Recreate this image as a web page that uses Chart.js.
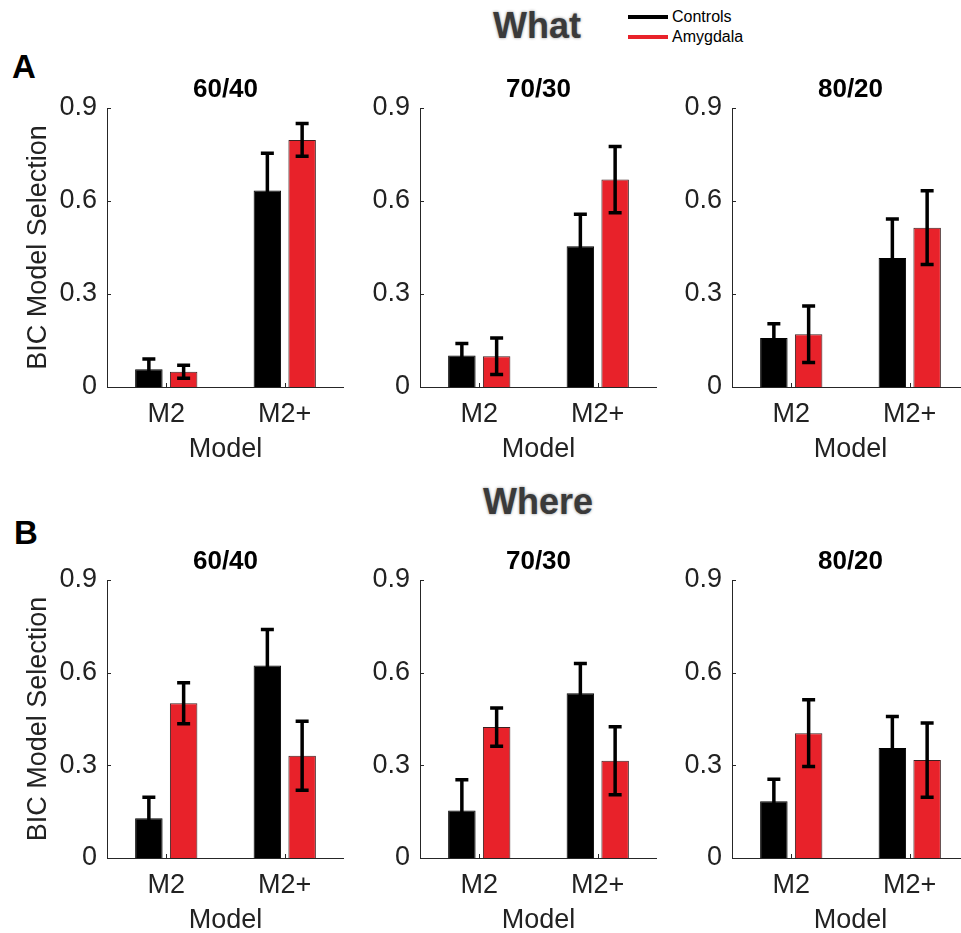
<!DOCTYPE html>
<html>
<head>
<meta charset="utf-8">
<script src="https://cdn.jsdelivr.net/npm/chart.js@4.4.1/dist/chart.umd.min.js"></script>
<style>
  html, body { margin: 0; padding: 0; background: #fff; overflow: hidden; width: 961px; height: 933px; }
  #wrap { position: relative; width: 961px; height: 933px; overflow: hidden; font-family: "Liberation Sans", Arial, sans-serif; }
  canvas { position: absolute; }
  .txt { position: absolute; white-space: nowrap; line-height: 1; }
  .big { font-weight: bold; font-size: 36px; color: #3a3a3a; text-shadow: 0 0 3px rgba(0,0,0,0.45); transform: translateX(-50%); }
  .letter { font-weight: bold; font-size: 33px; color: #000; }
  .leg { font-size: 16px; color: #000; }
  .legline { position: absolute; width: 40px; height: 4px; }
</style>
</head>
<body>
<div id="wrap">
  <div class="txt big" style="left:537px; top:8px;">What</div>
  <div class="txt big" style="left:538px; top:484px;">Where</div>
  <div class="txt letter" style="left:12px; top:50px;">A</div>
  <div class="txt letter" style="left:14px; top:516px;">B</div>
  <div class="legline" style="left:628px; top:15px; background:#000;"></div>
  <div class="legline" style="left:628px; top:35px; background:#e8222a;"></div>
  <div class="txt leg" style="left:672px; top:9px;">Controls</div>
  <div class="txt leg" style="left:672px; top:29px;">Amygdala</div>
</div>
<script>
// ---- data ----
const categories = ['M2', 'M2+'];
const conditions = ['60/40', '70/30', '80/20'];
const seriesNames = ['Controls', 'Amygdala'];
const yTicks = [0, 0.3, 0.6, 0.9];
const yTickLabels = ['0', '0.3', '0.6', '0.9'];
const xTitle = 'Model';
const yTitle = 'BIC Model Selection';

// per condition (60/40, 70/30, 80/20): [M2, M2+]
const whatControls     = [[0.057, 0.634], [0.102, 0.454], [0.158, 0.416]];
const whatControlsErr  = [[0.033, 0.120], [0.038, 0.103], [0.046, 0.126]];
const whatAmygdala     = [[0.049, 0.797], [0.099, 0.669], [0.170, 0.514]];
const whatAmygdalaErr  = [[0.021, 0.053], [0.059, 0.107], [0.091, 0.119]];
const whereControls    = [[0.129, 0.623], [0.154, 0.533], [0.184, 0.356]];
const whereControlsErr = [[0.068, 0.117], [0.099, 0.097], [0.071, 0.102]];
const whereAmygdala    = [[0.501, 0.331], [0.424, 0.315], [0.404, 0.317]];
const whereAmygdalaErr = [[0.066, 0.112], [0.062, 0.110], [0.108, 0.120]];

// ---- styling / layout ----
const FONT = '"Liberation Sans", Arial, sans-serif';
const RED = '#e8222a';
const AXIS = '#262626';
const axisX = [107, 420, 732];
const rows = [
  { top: 108, h: 279, ctrl: whatControls, ctrlErr: whatControlsErr, amy: whatAmygdala, amyErr: whatAmygdalaErr },
  { top: 580, h: 278, ctrl: whereControls, ctrlErr: whereControlsErr, amy: whereAmygdala, amyErr: whereAmygdalaErr }
];
const PLOT_W = 237;
const TITLE_BLOCK = 30, PAD_TOP = 4, XAXIS_H = 80;

const errorBarPlugin = {
  id: 'errorBars',
  afterDatasetsDraw(chart) {
    const ctx = chart.ctx;
    const ys = chart.scales.y;
    ctx.save();
    ctx.strokeStyle = '#000';
    ctx.lineWidth = 3.5;
    ctx.lineCap = 'butt';
    chart.data.datasets.forEach((ds, di) => {
      const meta = chart.getDatasetMeta(di);
      meta.data.forEach((el, i) => {
        const v = ds.data[i], e = ds.errors[i];
        const yt = ys.getPixelForValue(v + e);
        const yb = ys.getPixelForValue(v - e);
        const x = el.x, cw = 6.5;
        ctx.beginPath();
        ctx.moveTo(x, yt); ctx.lineTo(x, yb);
        ctx.moveTo(x - cw, yt); ctx.lineTo(x + cw, yt);
        ctx.moveTo(x - cw, yb); ctx.lineTo(x + cw, yb);
        ctx.stroke();
      });
    });
    ctx.restore();
  }
};

const innerTicksPlugin = {
  id: 'innerTicks',
  afterDraw(chart) {
    const ctx = chart.ctx;
    const ys = chart.scales.y, xs = chart.scales.x;
    const a = chart.chartArea;
    ctx.save();
    ctx.strokeStyle = AXIS;
    ctx.lineWidth = 1;
    ctx.beginPath();
    ys.ticks.forEach(t => {
      const y = Math.round(ys.getPixelForValue(t.value)) + 0.5;
      ctx.moveTo(a.left, y); ctx.lineTo(a.left + 4, y);
    });
    categories.forEach((c, i) => {
      const x = Math.round(xs.getPixelForValue(i)) + 0.5;
      ctx.moveTo(x, a.bottom); ctx.lineTo(x, a.bottom - 4);
    });
    ctx.stroke();
    ctx.restore();
  }
};

const wrap = document.getElementById('wrap');

rows.forEach((row, r) => {
  conditions.forEach((cond, c) => {
    const first = c === 0;
    const yAxisW = first ? 107 : 60;
    const cv = document.createElement('canvas');
    const W = yAxisW + PLOT_W;
    const H = PAD_TOP + TITLE_BLOCK + row.h + XAXIS_H;
    cv.width = W; cv.height = H;
    cv.style.width = W + 'px'; cv.style.height = H + 'px';
    cv.style.left = (axisX[c] - yAxisW) + 'px';
    cv.style.top = (row.top - TITLE_BLOCK - PAD_TOP) + 'px';
    wrap.appendChild(cv);

    new Chart(cv, {
      type: 'bar',
      data: {
        labels: categories,
        datasets: [
          { label: seriesNames[0], data: row.ctrl[c], errors: row.ctrlErr[c],
            backgroundColor: '#000', borderColor: '#000', borderWidth: 1 },
          { label: seriesNames[1], data: row.amy[c], errors: row.amyErr[c],
            backgroundColor: RED, borderColor: '#3b2020', borderWidth: 1 }
        ]
      },
      options: {
        responsive: false,
        animation: false,
        devicePixelRatio: 1,
        datasets: { bar: { categoryPercentage: 0.587, barPercentage: 0.79 } },
        layout: { padding: { top: PAD_TOP, left: 0, right: 0, bottom: 0 } },
        plugins: {
          legend: { display: false },
          tooltip: { enabled: false },
          title: {
            display: true, text: cond, fullSize: false, color: '#000',
            font: { family: FONT, size: 26, weight: 'bold', lineHeight: '24px' },
            padding: { top: 0, bottom: 6 }
          }
        },
        scales: {
          x: {
            grid: { display: false, drawTicks: false },
            border: { display: true, color: AXIS, width: 1 },
            ticks: { color: '#222', font: { family: FONT, size: 27 }, padding: 11 },
            title: { display: true, text: xTitle, color: '#222', font: { family: FONT, size: 27 }, padding: { top: 0, bottom: 1 } },
            afterFit(s) { s.height = XAXIS_H; }
          },
          y: {
            min: 0, max: 0.9,
            grid: { display: false, drawTicks: false },
            border: { display: true, color: AXIS, width: 1 },
            afterBuildTicks(s) { s.ticks = yTicks.map(v => ({ value: v })); },
            ticks: {
              color: '#222', font: { family: FONT, size: 27 }, padding: 10,
              callback: (v) => yTickLabels[yTicks.indexOf(v)]
            },
            title: { display: first, text: yTitle, color: '#222', font: { family: FONT, size: 27 }, padding: { top: 22, bottom: 0 } },
            afterFit(s) { s.width = yAxisW; }
          }
        }
      },
      plugins: [errorBarPlugin, innerTicksPlugin]
    });
  });
});
</script>
</body>
</html>
